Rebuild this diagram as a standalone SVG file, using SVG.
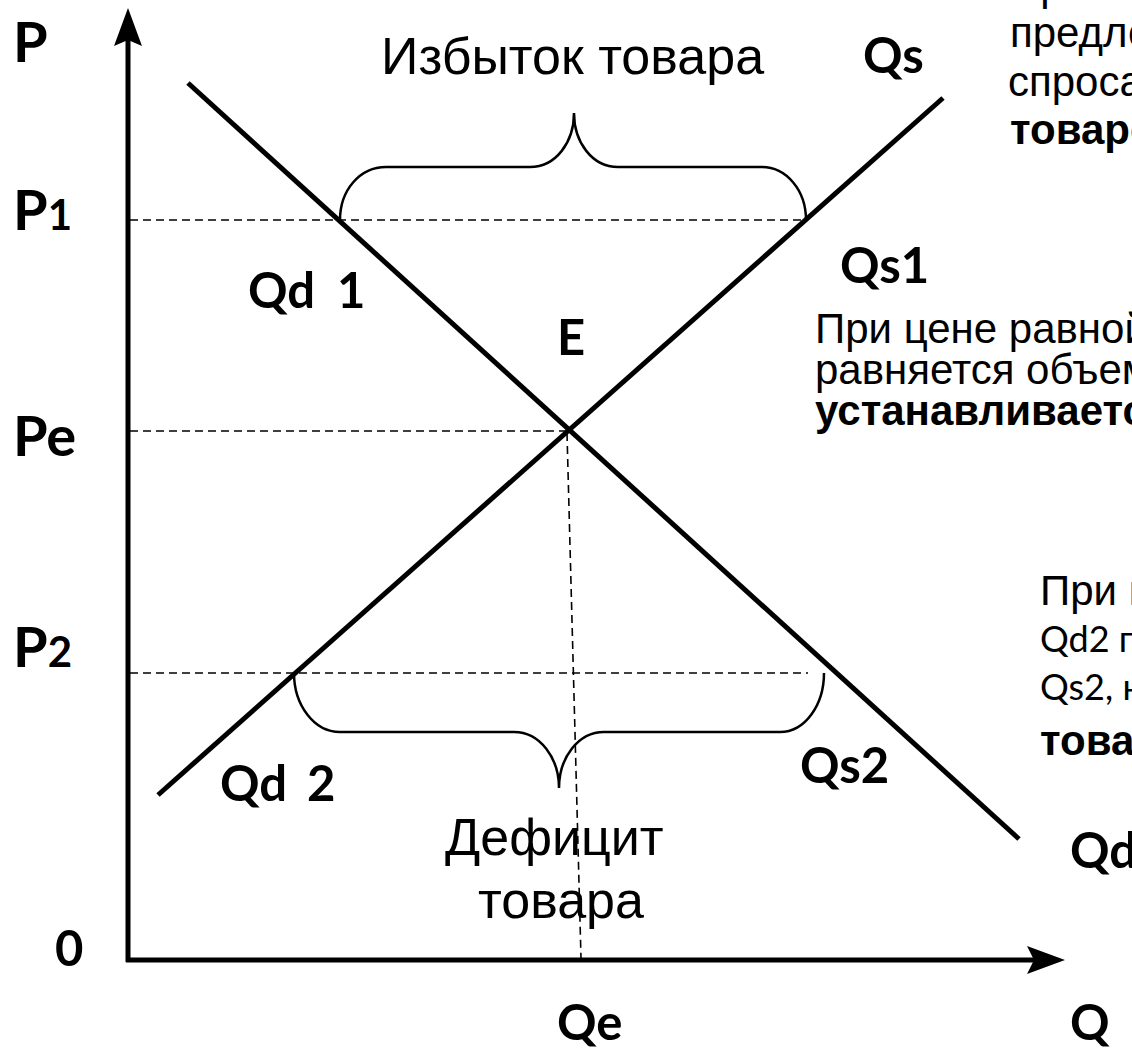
<svg xmlns="http://www.w3.org/2000/svg" width="1132" height="1055" viewBox="0 0 1132 1055">
<style>
.ax{stroke:#000;stroke-width:5;fill:none}
.crv{stroke:#000;stroke-width:5;fill:none}
.dash{stroke:#000;stroke-width:1.6;stroke-dasharray:8 5;fill:none}
.brace{stroke:#000;stroke-width:2.5;fill:none}
.head{fill:#000;stroke:none}
.lbl{font-family:Lato,"Liberation Sans",sans-serif;font-weight:700;fill:#000}
.big{font-size:56px}
.sm{font-size:49px}
.body{font-family:"Liberation Sans",Arial,sans-serif;fill:#000}
.reg{font-family:Lato,"Liberation Sans",sans-serif;fill:#000;font-size:36px}
</style>
<rect width="1132" height="1055" fill="#fff"/>
<g id="axes">
  <line class="ax" x1="128" y1="962" x2="128" y2="38"/>
  <polygon class="head" points="128,8 142,46 128,40 114,46"/>
  <line class="ax" x1="126" y1="960" x2="1036" y2="960"/>
  <polygon class="head" points="1065,960 1027,946 1034,960 1027,974"/>
</g>
<g id="connectors">
  <line class="dash" x1="130" y1="220" x2="806" y2="220"/>
  <line class="dash" x1="130" y1="431" x2="568" y2="431"/>
  <line class="dash" x1="130" y1="673" x2="808" y2="673"/>
  <line class="dash" x1="567" y1="433" x2="581" y2="958"/>
</g>
<g id="curve-demand">
  <line class="crv" x1="188" y1="83" x2="1019" y2="839"/>
</g>
<g id="curve-supply">
  <line class="crv" x1="158" y1="795" x2="943" y2="98"/>
</g>
<g id="brace-surplus">
  <path class="brace" d="M340,220 C340,190 360,167 386,167 L530,167 C556,167 574,142 574,113 C574,142 592,167 618,167 L762,167 C786,167 806,190 806,220"/>
</g>
<g id="brace-deficit">
  <path class="brace" d="M294,673 C294,705 314,732 340,732 L514,732 C540,732 559,758 559,788 C559,758 578,732 604,732 L780,732 C805,732 824,705 824,673"/>
</g>
<g id="axis-labels">
  <text class="lbl big" x="13" y="62">P</text>
  <text class="lbl big" x="13" y="230">P<tspan font-size="42">1</tspan></text>
  <text class="lbl big" x="13" y="456">Pe</text>
  <text class="lbl big" x="13" y="667">P<tspan font-size="42">2</tspan></text>
  <text class="lbl sm" x="55" y="966">0</text>
  <text class="lbl sm" x="557" y="1040">Qe</text>
  <text class="lbl sm" x="1070" y="1040">Q</text>
</g>
<g id="curve-labels">
  <text class="lbl sm" x="863" y="73">Qs</text>
  <text class="lbl sm" x="840" y="283">Qs1</text>
  <text class="lbl sm" x="248" y="308">Qd <tspan dx="10">1</tspan></text>
  <text class="lbl sm" x="557" y="355">E</text>
  <text class="lbl sm" x="220" y="801">Qd <tspan dx="8">2</tspan></text>
  <text class="lbl sm" x="800" y="783">Qs2</text>
  <text class="lbl sm" x="1070" y="868">Qd</text>
</g>
<g id="surplus-label">
  <text class="body" x="381" y="74" font-size="52">Избыток товара</text>
</g>
<g id="deficit-label">
  <text class="body" x="445" y="855" font-size="52">Дефицит</text>
  <text class="body" x="478" y="918" font-size="52">товара</text>
</g>
<g id="note-surplus">
  <text class="body" x="1010" y="0" font-size="42">При</text>
  <text class="body" x="1010" y="47" font-size="42">предло</text>
  <text class="body" x="1008" y="96" font-size="42">спроса</text>
  <text class="body" x="1010" y="144" font-size="42" font-weight="700">товаро</text>
</g>
<g id="note-equilibrium">
  <text class="body" x="815" y="343" font-size="42">При цене равной</text>
  <text class="body" x="815" y="384" font-size="42">равняется объем</text>
  <text class="body" x="815" y="425" font-size="42" font-weight="700">устанавливаетс</text>
</g>
<g id="note-deficit">
  <text class="body" x="1040" y="605" font-size="42">При н</text>
  <text class="reg" x="1040" y="652">Qd2 п</text>
  <text class="reg" x="1040" y="700">Qs2, н</text>
  <text class="body" x="1040" y="755" font-size="42" font-weight="700">товара</text>
</g>
</svg>
